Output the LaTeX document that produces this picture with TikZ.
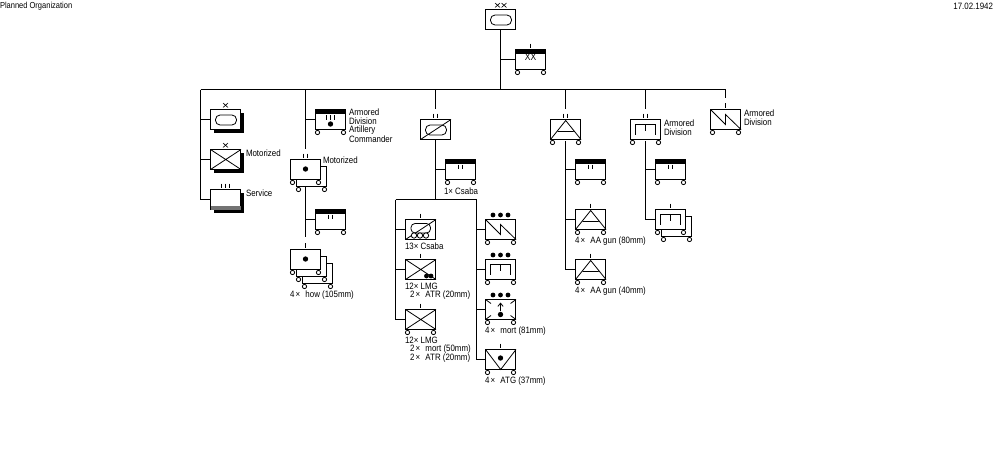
\documentclass[tikz,border=0pt]{standalone}
\usepackage{fontspec}
\setmainfont[FakeStretch=0.86]{Liberation Sans}
\usetikzlibrary{arrows.meta}
\tikzset{
  every picture/.style={x=0.75pt,y=-0.75pt,line width=0.75pt},
  unitbox/.style={draw=black,fill=white,line width=0.9pt,minimum width=22.5pt,minimum height=15pt,inner sep=0pt,outer sep=0pt,anchor=north west},
  shadowbox/.style={fill=black,draw=none,minimum width=22.5pt,minimum height=15pt,inner sep=0pt,anchor=north west},
  wheel/.style={circle,draw=black,fill=white,line width=0.6pt,minimum size=3.2pt,inner sep=0pt},
  dotmark/.style={circle,fill=black,draw=none,minimum size=4pt,inner sep=0pt},
  smalldot/.style={circle,fill=black,draw=none,minimum size=3.6pt,inner sep=0pt},
  lab/.style={anchor=west,inner sep=0pt,outer sep=0pt,font=\fontsize{6.9}{7}\selectfont,text=black},
  ech/.style={inner sep=0pt,outer sep=0pt},
  conn/.style={draw=black,line width=0.8pt},
  sym/.style={draw=black,line width=0.6pt},
  symthick/.style={draw=black,line width=0.75pt}
}
\newcommand{\wtm}{\kern1pt×\kern2.2pt\ }
\newcommand{\ubox}[3]{\node[unitbox] (#1) at (#2,#3) {};}
\newcommand{\wheels}[2]{\node[wheel] at (#1+2,#2+23) {};\node[wheel] at (#1+28,#2+23) {};}
\newcommand{\band}[2]{\fill[black] (#1,#2) rectangle (#1+30.5,#2+4);}
\newcommand{\tickone}[2]{\draw[sym] (#1,#2-6) -- (#1,#2-1.5);}
\newcommand{\ticktwo}[2]{\draw[sym] (#1-2,#2-6) -- (#1-2,#2-1.5) (#1+2,#2-6) -- (#1+2,#2-1.5);}
\newcommand{\tickthree}[2]{\draw[sym] (#1-4,#2-6) -- (#1-4,#2-1.5) (#1,#2-6) -- (#1,#2-1.5) (#1+4,#2-6) -- (#1+4,#2-1.5);}
\newcommand{\tickx}[2]{\draw[draw=black,line width=0.45pt] (#1-2.5,#2-6.5) -- (#1+2.5,#2-2) (#1+2.5,#2-6.5) -- (#1-2.5,#2-2);}
\newcommand{\stad}[2]{\draw[sym,rounded corners=3.4pt] (#1+5,#2+5.5) rectangle (#1+26,#2+15.5);}
\newcommand{\xcross}[2]{\draw[sym] (#1,#2) -- (#1+30.5,#2+20) (#1,#2+20) -- (#1+30.5,#2);}
\newcommand{\saw}[2]{\draw[sym] (#1,#2) -- (#1+15,#2+15) -- (#1+15,#2+5) -- (#1+30.5,#2+20);}
\newcommand{\pisym}[2]{\draw[symthick] (#1+5,#2+15) -- (#1+5,#2+5) -- (#1+25,#2+5) -- (#1+25,#2+15) (#1+15.2,#2+5) -- (#1+15.2,#2+11.5);}
\newcommand{\tri}[2]{\draw[sym] (#1,#2+20) -- (#1+15.2,#2+1) -- (#1+30.5,#2+20) (#1+7.4,#2+12) -- (#1+23,#2+12);}
\newcommand{\threedots}[2]{\node[smalldot] at (#1+7.5,#2-4.5) {};\node[smalldot] at (#1+15,#2-4.5) {};\node[smalldot] at (#1+22.5,#2-4.5) {};}
\begin{document}
\begin{tikzpicture}
\useasboundingbox (0,0) rectangle (1000,450);
\node[lab,font=\fontsize{6.55}{7}\selectfont] (hl) at (0,6) {Planned Organization};
\node[lab,anchor=east] (hr) at (993,6) {17.02.1942};
\coordinate (topL) at (200.5,89.5);
\coordinate (topR) at (725.5,89.5);
\coordinate (t0) at (500.5,89.5);
% ---- top
\ubox{hq}{485.5}{9.5}\stad{485.5}{9.5}\tickx{497.5}{9.5}\tickx{504}{9.5}
\ubox{hqs}{515.5}{49.5}\band{515.5}{49.5}\wheels{515.5}{49.5}\tickone{530.5}{49.5}
\node[ech,font=\fontsize{7.4}{8}\selectfont] (hqsl) at (530.5,56.8) {XX};
\draw[conn] (hq.south) -- (t0);
\draw[conn] (500.5,59.5) coordinate (j0) -- (hqs.west);
\draw[conn] (topL) -- (topR);
% ---- left
\coordinate (lb) at (200.5,199.5);
\draw[conn] (topL) -- (lb);
\node[shadowbox] (s1) at (213.5,112.5) {};
\node[shadowbox] (s2) at (213.5,152.5) {};
\node[shadowbox] (s3) at (213.5,192.5) {};
\ubox{l1}{210.5}{109.5}\stad{210.5}{109.5}\tickx{225.5}{109.5}
\ubox{l2}{210.5}{149.5}\xcross{210.5}{149.5}\tickx{225.5}{149.5}
\ubox{l3}{210.5}{189.5}\tickthree{225.5}{189.5}
\fill[black!55] (210.5,206) rectangle (241,209.5);
\draw[conn] (200.5,119.5) -- (l1.west);
\draw[conn] (200.5,159.5) -- (l2.west);
\draw[conn] (lb) -- (l3.west);
\node[lab] at (246,153) {Motorized};
\node[lab] at (246,193) {Service};
% ---- column 2
\ubox{m0}{315.5}{109.5}\band{315.5}{109.5}\wheels{315.5}{109.5}\tickthree{330.5}{121}
\node[dotmark] at (330.5,124) {};
\draw[conn] (305.5,89.5) coordinate (c1top) -- (305.5,149);
\draw[conn] (305.5,119.5) -- (m0.west);
\node[lab] at (349,112) {Armored};
\node[lab] at (349,121) {Division};
\node[lab] at (349,130) {Artillery};
\node[lab] at (349,139) {Commander};
\ubox{m1b}{296.5}{166.5}\wheels{296.5}{166.5}
\ubox{m1}{290.5}{159.5}\wheels{290.5}{159.5}\ticktwo{305.5}{159.5}
\node[dotmark] at (305.5,169) {};
\node[lab] at (323,160) {Motorized};
\draw[conn] (305.5,186) -- (305.5,237);
\ubox{m2}{315.5}{209.5}\band{315.5}{209.5}\wheels{315.5}{209.5}\ticktwo{330.5}{220.5}
\draw[conn] (305.5,219.5) -- (m2.west);
\draw[sym] (305.5,243) -- (305.5,248);
\ubox{m3c}{302.5}{263.5}\wheels{302.5}{263.5}
\ubox{m3b}{296.5}{256.5}\wheels{296.5}{256.5}
\ubox{m3}{290.5}{249.5}\wheels{290.5}{249.5}
\node[dotmark] at (305.5,259) {};
\node[lab] at (290,295) {4\wtm how (105mm)};
% ---- centre
\draw[conn] (435.5,89.5) coordinate (c2top) -- (435.5,109);
\ubox{c0}{420.5}{119.5}\stad{420.5}{119.5}\draw[sym] (420.5,139.5) -- (451,119.5);\ticktwo{435.5}{119.5}
\draw[conn] (c0.south) -- (435.5,199.5);
\ubox{c1}{445.5}{159.5}\band{445.5}{159.5}\wheels{445.5}{159.5}\ticktwo{460.5}{170.5}
\draw[conn] (435.5,169.5) -- (c1.west);
\node[lab] at (444,191) {1× Csaba};
\coordinate (bl) at (395.5,199.5);
\coordinate (br) at (476.5,199.5);
\draw[conn] (bl) -- (br);
% left subcolumn
\draw[conn] (bl) -- (395.5,319.5) -- (405.5,319.5);
\ubox{a1}{405.5}{219.5}\tickone{420.5}{219.5}
\draw[sym,rounded corners=3pt] (411,223.5) rectangle (430.5,233);
\draw[sym] (405.5,239.5) -- (436,219.5);
\foreach \cx in {414,420,426}{\node[wheel,minimum size=4pt] at (\cx,235.5) {};}
\draw[conn] (395.5,229.5) -- (a1.west);
\node[lab] at (405,246) {13× Csaba};
\ubox{a2}{405.5}{259.5}\xcross{405.5}{259.5}\tickone{420.5}{259.5}
\node[smalldot] at (426.5,276) {};\node[smalldot] at (431,276) {};
\draw[conn] (395.5,269.5) -- (a2.west);
\node[lab] at (405,286) {12× LMG};
\node[lab] at (410,295) {2\wtm ATR (20mm)};
\ubox{a3}{405.5}{309.5}\xcross{405.5}{309.5}\wheels{405.5}{309.5}\tickone{420.5}{309.5}
\node[lab] at (405,340) {12× LMG};
\node[lab] at (410,349) {2\wtm mort (50mm)};
\node[lab] at (410,358) {2\wtm ATR (20mm)};
% right subcolumn
\draw[conn] (br) -- (476.5,359.5) -- (485.5,359.5);
\ubox{b1}{485.5}{219.5}\saw{485.5}{219.5}\wheels{485.5}{219.5}\threedots{485.5}{219.5}
\draw[conn] (476.5,229.5) -- (b1.west);
\ubox{b2}{485.5}{259.5}\pisym{485.5}{259.5}\wheels{485.5}{259.5}\threedots{485.5}{259.5}
\draw[conn] (476.5,269.5) -- (b2.west);
\ubox{b3}{485.5}{299.5}\wheels{485.5}{299.5}\threedots{485.5}{299.5}
\draw[sym] (485.5,299.5) -- (491,303.5) (516,299.5) -- (510.5,303.5) (485.5,319.5) -- (491,315.5) (516,319.5) -- (510.5,315.5);
\node[dotmark] (b3d) at (500.5,314.5) {};
\draw[sym,-{Straight Barb[length=2.5pt,width=4pt]}] (b3d) -- (500.5,302.5);
\draw[conn] (476.5,309.5) -- (b3.west);
\node[lab] at (485,331) {4\wtm mort (81mm)};
\ubox{b4}{485.5}{349.5}\wheels{485.5}{349.5}\tickone{500.5}{349.5}
\draw[sym] (485.5,349.5) -- (500.7,369.5) -- (516,349.5);
\node[dotmark] at (500.5,358) {};
\node[lab] at (485,381) {4\wtm ATG (37mm)};
% ---- AA
\draw[conn] (565.5,89.5) coordinate (c3top) -- (565.5,109);
\ubox{d0}{550.5}{119.5}\tri{550.5}{119.5}\ticktwo{565.5}{119.5}\wheels{550.5}{119.5}
\draw[conn] (565.5,141) -- (565.5,269.5) -- (575.5,269.5);
\ubox{d1}{575.5}{159.5}\band{575.5}{159.5}\wheels{575.5}{159.5}\ticktwo{590.5}{170.5}
\draw[conn] (565.5,169.5) -- (d1.west);
\ubox{d2}{575.5}{209.5}\tri{575.5}{209.5}\tickone{590.5}{209.5}\wheels{575.5}{209.5}
\draw[conn] (565.5,219.5) -- (d2.west);
\node[lab] at (575,241) {4\wtm AA gun (80mm)};
\ubox{d3}{575.5}{259.5}\tri{575.5}{259.5}\tickone{590.5}{259.5}\wheels{575.5}{259.5}
\node[lab] at (575,291) {4\wtm AA gun (40mm)};
% ---- Armored regiment
\draw[conn] (645.5,89.5) coordinate (c4top) -- (645.5,109);
\ubox{e0}{630.5}{119.5}\pisym{630.5}{119.5}\ticktwo{645.5}{119.5}\wheels{630.5}{119.5}
\node[lab] at (664,123) {Armored};
\node[lab] at (664,132) {Division};
\draw[conn] (645.5,141) -- (645.5,219.5) -- (655.5,219.5);
\ubox{e1}{655.5}{159.5}\band{655.5}{159.5}\wheels{655.5}{159.5}\ticktwo{670.5}{170.5}
\draw[conn] (645.5,169.5) -- (e1.west);
\ubox{e2b}{661.5}{216.5}\wheels{661.5}{216.5}
\ubox{e2}{655.5}{209.5}\pisym{655.5}{209.5}\tickone{670.5}{209.5}\wheels{655.5}{209.5}
% ---- last
\draw[conn] (725.5,89.5) coordinate (c5top) -- (725.5,98);
\draw[sym] (725.5,103) -- (725.5,107.5);
\ubox{f0}{710.5}{109.5}\saw{710.5}{109.5}\wheels{710.5}{109.5}
\node[lab] at (744,113) {Armored};
\node[lab] at (744,122) {Division};
\end{tikzpicture}
\end{document}
